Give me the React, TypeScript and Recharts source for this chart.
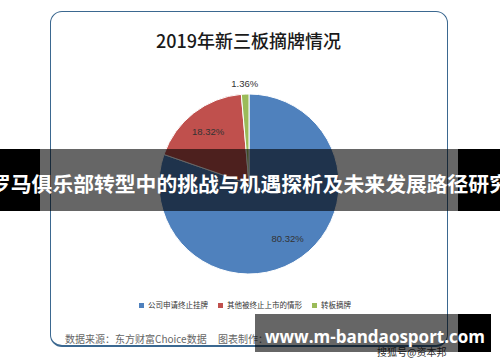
import { PieChart, Pie, Cell, Legend } from 'recharts'

const categories = ['公司申请终止挂牌', '其他被终止上市的情形', '转板摘牌']
const shares = [80.32, 18.32, 1.36]
const colors = ['#4f81bd', '#c0504d', '#9bbb59']

const title = '2019年新三板摘牌情况'
const banner = '罗马俱乐部转型中的挑战与机遇探析及未来发展路径研究'
const source = '数据来源：东方财富Choice数据'
const maker = '图表制作：'
const site = 'www.m-bandaosport.com'
const credit = '搜狐号@资本邦'

const data = categories.map((name, i) => ({ name, value: shares[i] }))

const RAD = Math.PI / 180

const renderLabel = (props: any) => {
  const { cx, cy, midAngle, outerRadius, value } = props
  const r = value < 5 ? outerRadius + 11 : outerRadius * 0.74
  const x = cx + r * Math.cos(-midAngle * RAD)
  const y = cy + r * Math.sin(-midAngle * RAD)
  return (
    <text x={x} y={y} textAnchor="middle" dominantBaseline="central"
      fill="#333" fontSize={9.5} fontFamily="'Liberation Sans', sans-serif">
      {value.toFixed(2)}%
    </text>
  )
}

const abs = (s: React.CSSProperties): React.CSSProperties => ({ position: 'absolute', ...s })

export default function App() {
  return (
    <div style={{ position: 'absolute', left: 0, top: 0, width: 500, height: 362, background: '#fff', overflow: 'hidden', fontFamily: "'Noto Sans CJK SC', sans-serif" }}>
      {/* frame */}
      <div style={abs({ left: 50, top: 11, width: 396, height: 333, border: '1.5px solid #3b6890', borderBottomWidth: 2.5, borderRadius: 12 })} />
      <div style={abs({ left: 0, top: 27, width: 497, textAlign: 'center', fontSize: 18, fontWeight: 500, color: '#1a1a1a', lineHeight: '26px' })}>{title}</div>

      <div style={abs({ left: 0, top: 0 })}>
        <PieChart width={500} height={362} margin={{ top: 0, right: 0, bottom: 0, left: 0 }}>
          <Pie
            data={data}
            dataKey="value"
            nameKey="name"
            cx={249}
            cy={184}
            outerRadius={90}
            startAngle={90}
            endAngle={-270}
            stroke="#fff"
            strokeWidth={1}
            label={renderLabel}
            labelLine={false}
            isAnimationActive={false}
          >
            {data.map((d, i) => <Cell key={d.name} fill={colors[i]} />)}
          </Pie>
          <Legend
            verticalAlign="bottom"
            align="center"
            iconType="square"
            iconSize={5}
            wrapperStyle={{ top: 299, bottom: 'auto', fontSize: 7.5, lineHeight: '12px' }}
            formatter={(v: string) => <span style={{ color: '#333' }}>{v}</span>}
          />
        </PieChart>
      </div>

      <div style={abs({ left: 65, top: 331, fontSize: 10, color: '#666', lineHeight: '16px', whiteSpace: 'nowrap' })}>{source}</div>
      <div style={abs({ left: 218, top: 331, fontSize: 10, color: '#666', lineHeight: '16px', whiteSpace: 'nowrap' })}>{maker}</div>
      <div style={abs({ left: 377, top: 344, fontSize: 10, color: '#333', lineHeight: '16px', whiteSpace: 'nowrap' })}>{credit}</div>

      {/* overlay band */}
      <div style={abs({ left: 0, top: 149, width: 40, height: 62, background: '#000' })} />
      <div style={abs({ left: 40, top: 149, width: 418, height: 62, background: 'rgba(0,0,0,0.6)' })} />
      <div style={abs({ left: 458, top: 149, width: 42, height: 62, background: '#000' })} />
      <div style={abs({ left: -10, top: 168, width: 520, textAlign: 'center', fontSize: 20.8, fontWeight: 700, color: '#fff', lineHeight: '30px', whiteSpace: 'nowrap' })}>{banner}</div>

      {/* site box */}
      <div style={abs({ left: 255, top: 314, width: 203, height: 38, background: 'rgba(0,0,0,0.6)' })} />
      <div style={abs({ left: 458, top: 314, width: 33, height: 38, background: '#000' })} />
      <div style={abs({ left: 265, top: 323, fontSize: 17, fontWeight: 700, color: '#fff', lineHeight: '28px', whiteSpace: 'nowrap', fontFamily: "'Open Sans', sans-serif" })}>{site}</div>
    </div>
  )
}
